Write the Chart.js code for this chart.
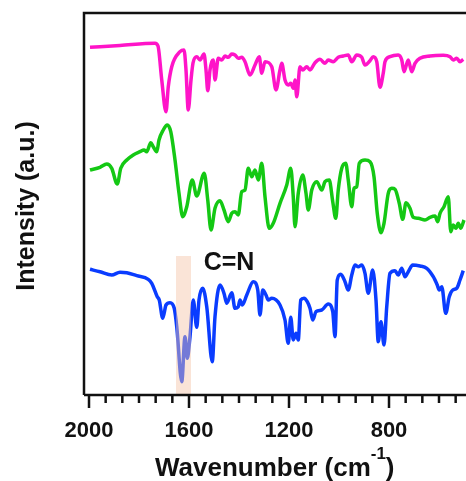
<!doctype html>
<html lang="en">
<head>
  <meta charset="utf-8">
  <title>FTIR spectra</title>
  <script src="https://cdn.jsdelivr.net/npm/chart.js"></script>
  <style>
    body { margin: 0; background: #fff; }
    #wrap { width: 466px; height: 481px; }
  </style>
</head>
<body>
  <div id="wrap"><canvas id="ftirChart" width="466" height="481"></canvas></div>

  <script>
    // wavenumber (cm-1) / intensity pairs, one pair of arrays per spectrum
    const pinkWn = [1996, 1876, 1736, 1724, 1709, 1692, 1683, 1669, 1636, 1620, 1612, 1603, 1592, 1584, 1569, 1556, 1540, 1532, 1525, 1516, 1509, 1503, 1496, 1483, 1469, 1456, 1443, 1429, 1416, 1403, 1389, 1376, 1356, 1336, 1319, 1309, 1296, 1269, 1252, 1236, 1229, 1216, 1203, 1193, 1183, 1176, 1169, 1156, 1145, 1129, 1116, 1096, 1076, 1056, 1043, 1023, 1003, 983, 963, 949, 929, 909, 896, 876, 863, 849, 836, 823, 816, 796, 763, 749, 740, 723, 709, 696, 676, 636, 583, 556, 543, 529, 516, 503];
    const pinkInt = [347.7, 349.5, 351.7, 349, 315, 283.3, 308, 328.3, 343.3, 345, 325, 285, 315, 332, 338.3, 335, 341, 325, 304.3, 325, 333.3, 335, 315, 336.7, 335, 339, 337.7, 341, 340, 336.7, 337.7, 333.3, 320, 330, 338.3, 321.7, 333.3, 328.3, 305, 325, 331.7, 315, 310, 311.7, 306.7, 315, 298.3, 328.3, 325, 328.3, 325, 332.3, 335.7, 331.7, 335, 333.3, 337.7, 339, 340, 333.3, 340, 337.7, 330, 334.3, 338.3, 333.3, 307.7, 321.7, 333.3, 338.3, 340, 335, 323.3, 335, 323.3, 331.7, 336.7, 339, 339.7, 338.3, 335, 336.7, 333.3, 335.7];

    const greenWn = [1996, 1956, 1929, 1909, 1887, 1873, 1849, 1823, 1796, 1780, 1769, 1753, 1743, 1729, 1720, 1703, 1687, 1673, 1656, 1640, 1625, 1609, 1587, 1569, 1539, 1525, 1512, 1496, 1476, 1460, 1443, 1429, 1416, 1403, 1389, 1376, 1363, 1349, 1336, 1323, 1309, 1296, 1279, 1263, 1236, 1209, 1193, 1183, 1176, 1163, 1145, 1132, 1123, 1109, 1089, 1069, 1056, 1039, 1025, 1013, 1003, 989, 973, 963, 949, 940, 929, 919, 896, 876, 860, 847, 832, 820, 803, 789, 776, 759, 745, 732, 716, 703, 683, 656, 636, 616, 605, 596, 580, 563, 553, 543, 532, 523, 513, 500];
    const greenInt = [225, 227.7, 231, 226.7, 211, 226.7, 235, 240, 243.3, 245, 243.3, 252.3, 248.3, 243.3, 255, 265, 270, 263.3, 235, 201.7, 178.3, 188.3, 215, 199, 221.7, 195, 165, 186.7, 194.3, 185, 173.3, 181.7, 183.3, 180, 203.3, 205, 226.7, 218.3, 225, 215, 231.7, 198.3, 166.7, 171.7, 191.7, 210, 226.7, 198.3, 168.3, 201.7, 220, 201.7, 185, 205, 213.3, 205, 213.3, 215, 193.3, 176.7, 205, 226.7, 231.7, 215, 188.3, 206.7, 208.3, 231.7, 235, 233.3, 218.3, 181.7, 162.3, 171.7, 201.7, 206.7, 205.7, 191.7, 175.7, 192.3, 186.7, 177.7, 176.7, 175, 177.7, 179, 173.3, 181.7, 188.3, 198.3, 163.3, 170, 166.7, 171.7, 166.7, 175];

    const blueWn = [1996, 1956, 1909, 1876, 1849, 1809, 1763, 1749, 1727, 1719, 1705, 1692, 1676, 1659, 1649, 1629, 1616, 1607, 1596, 1583, 1569, 1560, 1545, 1529, 1507, 1496, 1476, 1460, 1449, 1429, 1416, 1403, 1396, 1387, 1369, 1343, 1325, 1316, 1305, 1292, 1283, 1269, 1236, 1216, 1203, 1193, 1183, 1172, 1163, 1153, 1140, 1127, 1116, 1105, 1092, 1069, 1043, 1025, 1016, 1007, 993, 976, 963, 949, 936, 923, 909, 896, 883, 865, 852, 843, 832, 820, 809, 796, 776, 763, 749, 736, 723, 705, 676, 649, 623, 607, 599, 589, 573, 559, 545, 529, 516, 503];
    const blueInt = [125.7, 123.3, 120, 122.7, 122.3, 119.3, 115.7, 111.7, 98.3, 95, 76.7, 90, 92.3, 86.7, 68.3, 13.3, 58.3, 36.7, 58.3, 95, 67.7, 95, 106.7, 88.3, 33.3, 78.3, 110, 101.7, 91.7, 102.3, 86.7, 88.3, 95, 90, 100, 113.3, 105, 80, 105, 100, 95, 96.7, 90, 75, 51.7, 77.7, 55, 61.7, 55, 95, 96.7, 93.3, 86.7, 75, 83.3, 85, 91, 83.3, 58.3, 115, 120.7, 113.3, 105, 120, 130, 128.3, 130, 121.7, 101.7, 125, 95, 53.3, 73.3, 50, 88.3, 121.7, 124.3, 120, 126.7, 118.3, 123.3, 130, 129, 126.7, 118.3, 110, 105, 108.3, 81.7, 98.3, 105, 106.7, 115, 124.3];

    const tickValues = [2000, 1600, 1200, 800];
    const bandRange = [1652, 1592];   // C=N highlight, cm-1
    const bandTop = 139;              // intensity units
    const labelAt = [1440, 126];      // "C=N" text anchor (x, y in data units)

    const FONT = '"Liberation Sans", Arial, sans-serif';
    const minorStep = 400 / 6;

    const toPoints = (wn, vals) => wn.map((w, i) => ({ x: w, y: vals[i] }));

    const decor = {
      id: 'decor',
      afterDatasetsDraw(chart) {
        const { ctx, chartArea: a, scales: { x, y } } = chart;
        // highlight band over C=N peak
        ctx.save();
        ctx.fillStyle = 'rgba(244, 196, 166, 0.45)';
        const x1 = x.getPixelForValue(bandRange[0]);
        const x2 = x.getPixelForValue(bandRange[1]);
        const yt = y.getPixelForValue(bandTop);
        ctx.fillRect(x1, yt, x2 - x1, a.bottom - yt);
        ctx.restore();
      },
      afterDraw(chart) {
        const { ctx, chartArea: a, scales: { x, y } } = chart;
        ctx.save();
        ctx.strokeStyle = '#111';
        ctx.lineWidth = 2.5;
        ctx.beginPath();
        ctx.moveTo(a.left, a.bottom);
        ctx.lineTo(a.left, a.top);
        ctx.lineTo(a.right + 2, a.top);
        ctx.moveTo(a.left, a.bottom);
        ctx.lineTo(a.right + 2, a.bottom);
        ctx.stroke();

        // major + minor ticks, pointing out
        for (let v = tickValues[0]; v > x.min; v -= minorStep) {
          const px = x.getPixelForValue(v);
          const major = tickValues.some(t => Math.abs(t - v) < 1);
          ctx.beginPath();
          ctx.moveTo(px, a.bottom);
          ctx.lineTo(px, a.bottom + (major ? 13 : 8));
          ctx.stroke();
        }

        ctx.fillStyle = '#111';
        // x title with superscript
        const big = `bold 26px ${FONT}`, small = `bold 17px ${FONT}`;
        ctx.textBaseline = 'alphabetic';
        ctx.textAlign = 'left';
        ctx.font = big;
        const t1 = 'Wavenumber (cm';
        const w1 = ctx.measureText(t1).width;
        ctx.font = small;
        const ws = ctx.measureText('-1').width;
        const sx = 155;
        ctx.font = big;
        ctx.fillText(t1, sx, 476);
        ctx.fillText(')', sx + w1 + ws, 476);
        ctx.font = small;
        ctx.fillText('-1', sx + w1, 459);

        // y title
        ctx.save();
        ctx.translate(34, 206);
        ctx.rotate(-Math.PI / 2);
        ctx.textAlign = 'center';
        ctx.font = `bold 25px ${FONT}`;
        ctx.fillText('Intensity (a.u.)', 0, 0);
        ctx.restore();

        // peak label
        ctx.font = `bold 25px ${FONT}`;
        ctx.textAlign = 'center';
        ctx.fillText('C=N', x.getPixelForValue(labelAt[0]), y.getPixelForValue(labelAt[1]) + 1);
        ctx.restore();
      }
    };

    const line = (data, color) => ({
      data,
      borderColor: color,
      borderWidth: 3.5,
      pointRadius: 0,
      fill: false,
      cubicInterpolationMode: 'monotone'
    });

    new Chart(document.getElementById('ftirChart'), {
      type: 'line',
      data: {
        datasets: [
          line(toPoints(pinkWn, pinkInt), '#ff14c8'),
          line(toPoints(greenWn, greenInt), '#14c814'),
          line(toPoints(blueWn, blueInt), '#0a3cff')
        ]
      },
      options: {
        responsive: false,
        animation: false,
        layout: { padding: { top: 13, right: 0, left: 0, bottom: 0 } },
        plugins: { legend: { display: false }, tooltip: { enabled: false } },
        scales: {
          x: {
            type: 'linear',
            reverse: true,
            min: 492,
            max: 2020,
            afterFit(s) { s.height = 86; },
            afterBuildTicks(s) { s.ticks = tickValues.map(v => ({ value: v })); },
            grid: { display: false },
            border: { display: false },
            ticks: {
              padding: 15,
              color: '#111',
              font: { family: FONT, size: 22, weight: 'bold' },
              maxRotation: 0,
              callback: v => String(v)
            }
          },
          y: {
            min: 0,
            max: 382,
            afterFit(s) { s.width = 84; },
            grid: { display: false },
            border: { display: false },
            ticks: { display: false }
          }
        }
      },
      plugins: [decor]
    });
  </script>
</body>
</html>
